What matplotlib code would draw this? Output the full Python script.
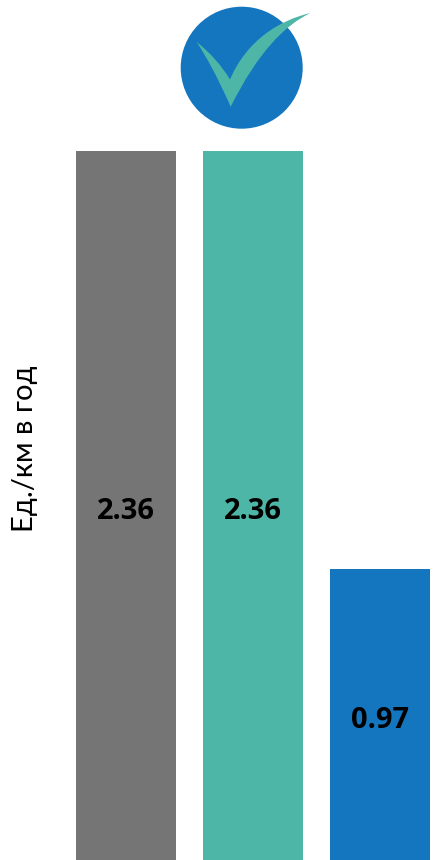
from matplotlib import pyplot as plt
from matplotlib.patches import Circle, PathPatch
from matplotlib.path import Path

values = [2.36, 2.36, 0.97]
labels = ["2.36", "2.36", "0.97"]
colors = ['#757575', '#4DB6A6', '#1476BF']
ylabel = "Ед./км в год"

plt.rcParams['font.family'] = ['Lato', 'DejaVu Sans']

W, H = 433, 860
fig = plt.figure(figsize=(W / 100, H / 100), dpi=100)

# bars: axes fills the figure, limits put the bars where they are in the picture
ax = fig.add_axes([0, 0, 1, 1])
pitch = 127
ax.set_xlim(-126 / pitch, (W - 126) / pitch)
ax.set_ylim(0, H / 300.4)
bars = ax.bar(range(len(values)), values, width=100 / pitch, color=colors)
ax.bar_label(bars, labels=labels, label_type='center', fontsize=21, fontweight='bold',
             family=['Open Sans', 'DejaVu Sans'], color='black', padding=-4.5)
ax.axis('off')

fig.text(25 / W, 1 - 449 / H, ylabel, rotation=90, ha='center', va='center', fontsize=21)

# check icon, drawn in pixel coordinates of the figure
icon = fig.add_axes([0, 0, 1, 1], zorder=3)
icon.set_xlim(0, W)
icon.set_ylim(H, 0)
icon.axis('off')
icon.add_patch(Circle((241.7, 67.7), 61, color='#1476BF', lw=0))
verts = [(196.7, 42), (217, 58), (230, 79.5),
         (246.8, 40), (280, 20), (310.5, 13),
         (285, 25), (258, 52), (230.7, 106.7),
         (216, 74), (207, 58), (196.7, 42)]
codes = [Path.MOVETO, Path.CURVE3, Path.CURVE3,
         Path.CURVE4, Path.CURVE4, Path.CURVE4,
         Path.CURVE4, Path.CURVE4, Path.CURVE4,
         Path.CURVE4, Path.CURVE4, Path.CURVE4]
icon.add_patch(PathPatch(Path(verts, codes), facecolor='#4DB6A6', lw=0))

plt.savefig('out.png', dpi=100)
